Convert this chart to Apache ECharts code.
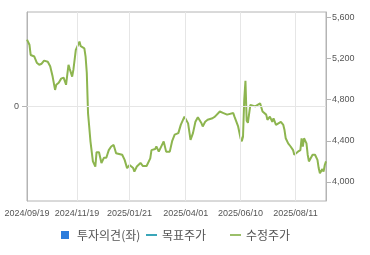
<!DOCTYPE html>
<html>
<head>
<meta charset="utf-8">
<script src="https://cdn.jsdelivr.net/npm/echarts@6/dist/echarts.min.js"></script>
<style>
html,body{margin:0;padding:0;background:#fff;}
#chart{width:370px;height:255px;}
</style>
</head>
<body>
<div id="chart"></div>
<script>
// trading-day index of each sampled point (0 = 2024/09/19)
var dayIndex = [0,2,3,6,8,10,12,14,17,19,21,23,24,26,28,30,32,33,34,35,37,38,40,43,44,47,48,49,50,51,52,54,56,57,59,61,63,65,67,69,71,73,78,80,82,84,87,88,90,93,95,98,101,102,105,106,108,112,114,117,119,121,124,126,129,132,134,135,136,138,140,143,144,146,148,152,154,158,161,164,169,170,173,175,176,177,178,179,180,181,183,184,187,189,191,193,196,197,199,201,202,204,206,208,210,211,212,214,216,218,219,220,222,224,225,226,227,228,229,230,231,232,234,236,238,239,240,241,242,243,244,245];
// 수정주가 (adjusted price)
var price = [5385,5335,5235,5220,5160,5140,5150,5180,5170,5125,5025,4895,4945,4965,5005,5015,4945,4930,5140,5100,5025,5090,5285,5365,5320,5300,5220,5060,4670,4535,4395,4200,4150,4290,4290,4185,4235,4235,4310,4345,4360,4280,4265,4215,4135,4165,4135,4100,4150,4185,4155,4155,4230,4310,4320,4345,4295,4395,4295,4295,4400,4460,4475,4555,4635,4570,4410,4405,4475,4585,4630,4570,4540,4585,4605,4620,4635,4685,4670,4655,4670,4635,4540,4425,4395,4440,4800,4985,4595,4575,4750,4765,4735,4750,4765,4685,4655,4605,4635,4585,4620,4555,4570,4585,4555,4505,4425,4375,4345,4310,4265,4265,4295,4310,4425,4345,4425,4420,4375,4265,4200,4215,4265,4265,4215,4135,4085,4100,4125,4100,4165,4200];
// x-axis tick labels and their trading-day index
var tickLabels = ['2024/09/19','2024/11/19','2025/01/21','2025/04/01','2025/06/10','2025/08/11'];
var tickIndex = [0,41,84,130,175,220];
var priceTicks = [4000,4400,4800,5200,5600];
var seriesNames = ['투자의견(좌)','목표주가','수정주가'];

var lineData = dayIndex.map(function(d,i){return [d, price[i]];});
var font = 'Liberation Sans';
var gridColor = '#e6e6e6';
var chart = echarts.init(document.getElementById('chart'), null, {renderer:'canvas'});
chart.setOption({
  animation:false,
  backgroundColor:'#fff',
  grid:{left:27,right:44,top:12,bottom:54,show:true,borderColor:'#b4b4b4',borderWidth:1,containLabel:false},
  legend:[
    {data:[{name:seriesNames[0],icon:'rect'}],left:61,top:229,padding:0,itemWidth:8,itemHeight:8,
     textStyle:{fontFamily:'Noto Sans CJK KR',fontSize:12,color:'#555',padding:[0,0,0,3]}},
    {data:[{name:seriesNames[1],icon:'rect'}],left:146,top:229,padding:0,itemWidth:11,itemHeight:2,
     textStyle:{fontFamily:'Noto Sans CJK KR',fontSize:12,color:'#555'}},
    {data:[{name:seriesNames[2],icon:'rect'}],left:230,top:229,padding:0,itemWidth:11,itemHeight:2,
     textStyle:{fontFamily:'Noto Sans CJK KR',fontSize:12,color:'#555'}}
  ],
  xAxis:{
    type:'value',min:0,max:245,
    axisLine:{show:true,lineStyle:{color:'#b4b4b4'}},
    axisTick:{show:true,length:5,customValues:tickIndex,lineStyle:{color:'#b4b4b4'}},
    axisLabel:{customValues:tickIndex,margin:8,fontFamily:font,fontSize:9,color:'#555',
      formatter:function(v){var k=tickIndex.indexOf(v);return k>=0?tickLabels[k]:'';}},
    splitLine:{show:false}
  },
  yAxis:[
    {type:'value',position:'left',min:-1,max:1,
     axisLine:{show:true,lineStyle:{color:'#b4b4b4'}},
     axisTick:{show:true,length:5,customValues:[0],lineStyle:{color:'#b4b4b4'}},
     axisLabel:{customValues:[0],margin:8,fontFamily:font,fontSize:9,color:'#555'},
     splitLine:{show:false}},
    {type:'value',position:'right',min:3815,max:5653,
     axisLine:{show:true,lineStyle:{color:'#b4b4b4'}},
     axisTick:{show:true,length:5,customValues:priceTicks,lineStyle:{color:'#b4b4b4'}},
     axisLabel:{customValues:priceTicks,margin:6,fontFamily:font,fontSize:9,color:'#555',
       formatter:function(v){return v.toLocaleString('en-US');}},
     splitLine:{show:false}}
  ],
  series:[
    {name:seriesNames[0],type:'bar',yAxisIndex:0,data:[],itemStyle:{color:'#2b7cdc'},z:1,
     markLine:{silent:true,symbol:'none',label:{show:false},animation:false,
       lineStyle:{color:gridColor,type:'solid',width:1},
       data:[{yAxis:0}].concat(tickIndex.slice(1).map(function(v){return {xAxis:v};}))}},
    {name:seriesNames[1],type:'line',yAxisIndex:1,data:[],itemStyle:{color:'#3aa6b9'},lineStyle:{color:'#3aa6b9'}},
    {name:seriesNames[2],type:'line',yAxisIndex:1,data:lineData,showSymbol:false,z:3,
     itemStyle:{color:'#9bbf6a'},lineStyle:{color:'#8db54f',width:2}}
  ]
});
</script>
</body>
</html>
